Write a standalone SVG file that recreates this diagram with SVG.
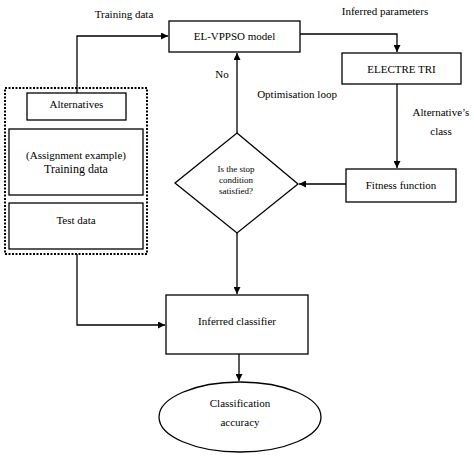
<svg xmlns="http://www.w3.org/2000/svg" width="474" height="456" viewBox="0 0 474 456">
<defs>
<marker id="arr" viewBox="0 0 10 10" refX="10" refY="5" markerWidth="7" markerHeight="7" markerUnits="userSpaceOnUse" orient="auto">
<path d="M0,0 L10,5 L0,10 z" fill="#000"/>
</marker>
<style>
.box{fill:#fff;stroke:#000;stroke-width:1.3}
.t{font-family:"Liberation Serif","Times New Roman",serif;font-size:11px;fill:#000;text-anchor:middle}
.s{font-size:9px}
.b{font-size:12px}
.c{fill:none;stroke:#000;stroke-width:1.3}
</style>
</defs>
<rect width="474" height="456" fill="#fff"/>
<g id="connectors">
<path class="c" d="M77,93 V36 H168" marker-end="url(#arr)"/>
<path class="c" d="M300,34 H397 V52" marker-end="url(#arr)"/>
<path class="c" d="M397,84 V168" marker-end="url(#arr)"/>
<path class="c" d="M346,184 H299" marker-end="url(#arr)"/>
<path class="c" d="M237,133 V53" marker-end="url(#arr)"/>
<path class="c" d="M237,233 V294" marker-end="url(#arr)"/>
<path class="c" d="M77,254 V325 H165" marker-end="url(#arr)"/>
<path class="c" d="M239,354 V381" marker-end="url(#arr)"/>
<text class="t" x="124" y="18">Training data</text>
<text class="t" x="385" y="15">Inferred parameters</text>
<text class="t" x="222" y="78">No</text>
<text class="t" x="297" y="98">Optimisation loop</text>
<text class="t" x="441" y="116">Alternative’s</text>
<text class="t" x="441" y="135">class</text>
</g>
<g id="inputs">
<rect x="5" y="88" width="142" height="166" fill="none" stroke="#000" stroke-width="2" stroke-dasharray="2,1.5"/>
</g>
<g id="alternatives">
<rect class="box" x="27" y="93" width="99" height="27"/>
<text class="t" x="76.5" y="108">Alternatives</text>
</g>
<g id="training">
<rect class="box" x="9" y="129" width="134" height="66"/>
<text class="t" x="76" y="159">(Assignment example)</text>
<text class="t b" x="76" y="173">Training data</text>
</g>
<g id="test">
<rect class="box" x="9" y="203" width="134" height="46"/>
<text class="t" x="76" y="224">Test data</text>
</g>
<g id="elvppso">
<rect class="box" x="169" y="21" width="131" height="31"/>
<text class="t" x="234.5" y="40">EL-VPPSO model</text>
</g>
<g id="electre">
<rect class="box" x="342" y="53" width="119" height="31"/>
<text class="t" x="401.5" y="73">ELECTRE TRI</text>
</g>
<g id="fitness">
<rect class="box" x="346" y="169" width="110" height="33"/>
<text class="t" x="401" y="189">Fitness function</text>
</g>
<g id="stop">
<polygon class="box" points="237,133 298,184 237,233 175,183"/>
<text class="t s" x="236" y="172">Is the stop</text>
<text class="t s" x="236" y="183">condition</text>
<text class="t s" x="236" y="194">satisfied?</text>
</g>
<g id="classifier">
<rect class="box" x="166" y="295" width="142" height="59"/>
<text class="t" x="237" y="325">Inferred classifier</text>
</g>
<g id="accuracy">
<ellipse class="box" cx="240" cy="417" rx="81" ry="35"/>
<text class="t" x="240" y="407">Classification</text>
<text class="t" x="240" y="426">accuracy</text>
</g>
</svg>
